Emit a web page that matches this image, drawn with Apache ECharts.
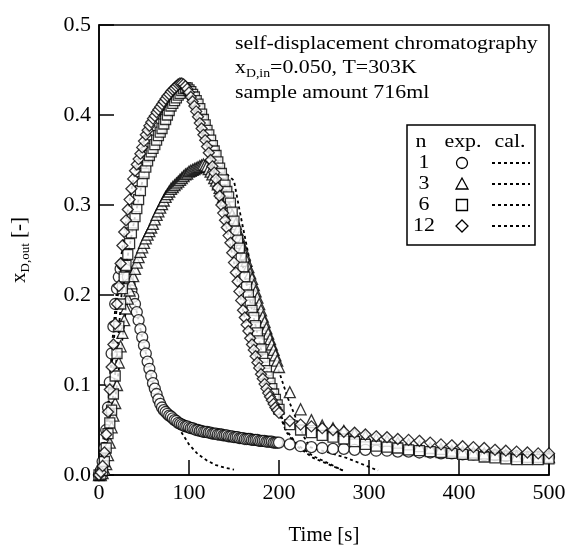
<!DOCTYPE html>
<html>
<head>
<meta charset="utf-8">
<script src="https://cdn.jsdelivr.net/npm/echarts@6/dist/echarts.min.js"></script>
<style>
html, body { margin: 0; padding: 0; background: #fff; }
#container { width: 568px; height: 547px; }
</style>
</head>
<body>
<div id="container"></div>
<script>
// sampling times of the experimental points [s]
var times = [
    0, 2, 4, 6, 8, 10, 12, 14, 16, 18,
    20, 22, 24, 26, 28, 30, 32, 34, 36, 38,
    40, 42, 44, 46, 48, 50, 52, 54, 56, 58,
    60, 62, 64, 66, 68, 70, 72, 74, 76, 78,
    80, 82, 84, 86, 88, 90, 92, 94, 96, 98,
    100, 102, 104, 106, 108, 110, 112, 114, 116, 118,
    120, 122, 124, 126, 128, 130, 132, 134, 136, 138,
    140, 142, 144, 146, 148, 150, 152, 154, 156, 158,
    160, 162, 164, 166, 168, 170, 172, 174, 176, 178,
    180, 182, 184, 186, 188, 190, 192, 194, 196, 198,
    200,
    212, 224, 236, 248, 260, 272, 284, 296, 308, 320, 332, 344, 356,
    368, 380, 392, 404, 416, 428, 440, 452, 464, 476, 488, 500
];

// exp. n = 1 (circles)
var expN1 = [
    0.000, 0.005, 0.015, 0.030, 0.050, 0.075, 0.103, 0.135, 0.165, 0.190,
    0.207, 0.220, 0.229, 0.234, 0.233, 0.228, 0.220, 0.212, 0.205, 0.198,
    0.190, 0.181, 0.172, 0.162, 0.153, 0.144, 0.135, 0.126, 0.118, 0.110,
    0.102, 0.096, 0.090, 0.084, 0.079, 0.075, 0.072, 0.070, 0.068, 0.066,
    0.065, 0.063, 0.061, 0.060, 0.058, 0.057, 0.056, 0.055, 0.054, 0.054,
    0.053, 0.052, 0.052, 0.051, 0.050, 0.050, 0.049, 0.049, 0.048, 0.048,
    0.048, 0.047, 0.047, 0.046, 0.046, 0.046, 0.045, 0.045, 0.045, 0.044,
    0.044, 0.044, 0.043, 0.043, 0.043, 0.042, 0.042, 0.042, 0.041, 0.041,
    0.041, 0.040, 0.040, 0.040, 0.040, 0.039, 0.039, 0.039, 0.039, 0.038,
    0.038, 0.038, 0.038, 0.037, 0.037, 0.037, 0.037, 0.036, 0.036, 0.036,
    0.036,
    0.034, 0.032, 0.031, 0.030, 0.029, 0.029, 0.028, 0.028, 0.027, 0.027, 0.026, 0.026, 0.025,
    0.025, 0.024, 0.024, 0.023, 0.023, 0.022, 0.022, 0.021, 0.021, 0.020, 0.020, 0.020
];

// exp. n = 3 (triangles)
var expN3 = [
    0.000, 0.000, 0.002, 0.006, 0.012, 0.022, 0.036, 0.053, 0.066, 0.080,
    0.100, 0.125, 0.143, 0.158, 0.172, 0.185, 0.196, 0.205, 0.213, 0.221,
    0.229, 0.236, 0.242, 0.248, 0.253, 0.258, 0.263, 0.267, 0.271, 0.275,
    0.279, 0.284, 0.289, 0.293, 0.297, 0.301, 0.305, 0.309, 0.312, 0.315,
    0.318, 0.320, 0.322, 0.324, 0.326, 0.328, 0.330, 0.332, 0.334, 0.335,
    0.337, 0.338, 0.339, 0.340, 0.341, 0.342, 0.343, 0.344, 0.345, 0.344,
    0.343, 0.340, 0.337, 0.334, 0.330, 0.327, 0.323, 0.319, 0.314, 0.309,
    0.305, 0.300, 0.296, 0.292, 0.289, 0.285, 0.279, 0.272, 0.265, 0.258,
    0.252, 0.245, 0.238, 0.231, 0.224, 0.218, 0.211, 0.204, 0.197, 0.190,
    0.183, 0.176, 0.170, 0.163, 0.157, 0.151, 0.145, 0.139, 0.133, 0.127,
    0.120,
    0.092, 0.073, 0.061, 0.055, 0.052, 0.049, 0.046, 0.043, 0.040, 0.038, 0.036, 0.034, 0.032,
    0.030, 0.029, 0.027, 0.026, 0.025, 0.024, 0.023, 0.022, 0.021, 0.020, 0.020, 0.020
];

// exp. n = 6 (squares)
var expN6 = [
    0.000, 0.001, 0.005, 0.015, 0.030, 0.046, 0.058, 0.072, 0.090, 0.110,
    0.135, 0.165, 0.190, 0.207, 0.220, 0.233, 0.245, 0.257, 0.269, 0.278,
    0.287, 0.296, 0.306, 0.316, 0.326, 0.335, 0.342, 0.349, 0.355, 0.359,
    0.363, 0.367, 0.372, 0.377, 0.381, 0.385, 0.390, 0.395, 0.400, 0.405,
    0.410, 0.413, 0.416, 0.419, 0.422, 0.424, 0.427, 0.429, 0.430, 0.430,
    0.428, 0.426, 0.423, 0.420, 0.416, 0.412, 0.407, 0.401, 0.395, 0.389,
    0.383, 0.378, 0.372, 0.366, 0.360, 0.355, 0.348, 0.341, 0.335, 0.328,
    0.322, 0.315, 0.309, 0.302, 0.292, 0.282, 0.271, 0.261, 0.252, 0.241,
    0.231, 0.220, 0.209, 0.200, 0.192, 0.183, 0.175, 0.166, 0.158, 0.149,
    0.140, 0.131, 0.124, 0.116, 0.109, 0.102, 0.096, 0.090, 0.084, 0.078,
    0.073,
    0.056, 0.050, 0.047, 0.044, 0.042, 0.040, 0.037, 0.034, 0.032, 0.031, 0.030, 0.028, 0.027,
    0.026, 0.025, 0.024, 0.023, 0.022, 0.020, 0.019, 0.018, 0.017, 0.017, 0.017, 0.018
];

// exp. n = 12 (diamonds)
var expN12 = [
    0.000, 0.003, 0.010, 0.025, 0.045, 0.070, 0.095, 0.120, 0.145, 0.168,
    0.190, 0.210, 0.235, 0.255, 0.270, 0.283, 0.295, 0.306, 0.318, 0.329,
    0.338, 0.345, 0.351, 0.357, 0.364, 0.371, 0.378, 0.383, 0.388, 0.392,
    0.396, 0.399, 0.403, 0.406, 0.409, 0.412, 0.415, 0.418, 0.421, 0.423,
    0.426, 0.428, 0.430, 0.432, 0.434, 0.435, 0.435, 0.434, 0.432, 0.429,
    0.425, 0.420, 0.415, 0.410, 0.404, 0.398, 0.391, 0.385, 0.378, 0.372,
    0.365, 0.358, 0.350, 0.343, 0.336, 0.329, 0.319, 0.310, 0.300, 0.291,
    0.283, 0.275, 0.266, 0.258, 0.247, 0.236, 0.225, 0.215, 0.204, 0.194,
    0.183, 0.175, 0.167, 0.160, 0.152, 0.145, 0.139, 0.132, 0.125, 0.119,
    0.112, 0.107, 0.101, 0.096, 0.091, 0.087, 0.083, 0.079, 0.075, 0.072,
    0.069,
    0.060, 0.056, 0.054, 0.052, 0.050, 0.048, 0.047, 0.045, 0.043, 0.042, 0.040, 0.039, 0.038,
    0.036, 0.034, 0.033, 0.032, 0.031, 0.030, 0.028, 0.027, 0.026, 0.025, 0.024, 0.024
];

// calculated curves (dashed)
var calTimesN1 = [0, 5, 10, 15, 20, 25, 30, 40, 50, 60, 70, 80, 90, 100, 110, 120, 130, 140, 150];
var calN1 = [0.000, 0.022, 0.075, 0.150, 0.207, 0.232, 0.228, 0.190, 0.144, 0.102, 0.075, 0.063, 0.050, 0.034, 0.023, 0.016, 0.011, 0.008, 0.006];

var calTimesN3 = [0, 5, 10, 15, 20, 30, 40, 60, 80, 100, 120, 130, 140, 150, 156, 165, 175, 185, 195, 200, 210, 220, 228, 234, 255, 275, 290, 310];
var calN3 = [0.000, 0.004, 0.022, 0.060, 0.100, 0.185, 0.229, 0.279, 0.318, 0.337, 0.346, 0.342, 0.336, 0.327, 0.295, 0.250, 0.200, 0.160, 0.128, 0.115, 0.085, 0.060, 0.042, 0.031, 0.025, 0.019, 0.013, 0.005];

var calTimesN6 = [0, 5, 10, 15, 20, 25, 30, 40, 50, 60, 70, 80, 90, 100, 110, 120, 130, 140, 150, 160, 170, 180, 190, 200, 208, 220, 238, 257, 271];
var calN6 = [0.000, 0.010, 0.046, 0.081, 0.135, 0.200, 0.233, 0.287, 0.335, 0.363, 0.385, 0.410, 0.424, 0.428, 0.412, 0.383, 0.355, 0.322, 0.282, 0.231, 0.183, 0.140, 0.102, 0.073, 0.050, 0.034, 0.021, 0.012, 0.005];

var calTimesN12 = [0, 5, 10, 15, 20, 25, 30, 40, 50, 60, 70, 80, 90, 100, 110, 120, 130, 140, 150, 160, 170, 180, 190, 200, 208, 220, 238, 257, 271];
var calN12 = [0.000, 0.035, 0.070, 0.132, 0.190, 0.245, 0.283, 0.338, 0.371, 0.396, 0.412, 0.426, 0.435, 0.425, 0.398, 0.365, 0.329, 0.283, 0.236, 0.183, 0.145, 0.112, 0.087, 0.069, 0.048, 0.032, 0.019, 0.011, 0.005];

var legendN = ['1', '3', '6', '12'];
var annotation = [
    'self-displacement chromatography',
    '{t|x}{sub|D,in}{t|=0.050, T=303K}',
    'sample amount 716ml'
];

var FONT = '"Liberation Serif", "DejaVu Serif", serif';

function pairs(xs, ys) {
    return xs.map(function (x, i) { return [x, ys[i]]; });
}

function expSeries(name, symbol, size, values) {
    return {
        name: name,
        type: 'scatter',
        z: 3,
        symbol: symbol,
        symbolSize: size,
        itemStyle: { color: '#fff', borderColor: '#000', borderWidth: 1.3 },
        data: pairs(times, values),
        silent: true
    };
}

function calSeries(name, xs, ys) {
    return {
        name: name,
        type: 'line',
        z: 1,
        showSymbol: false,
        lineStyle: { color: '#000', width: 1.8, type: [3, 3] },
        data: pairs(xs, ys),
        silent: true
    };
}

/** legend table drawn as graphics */
function legendGraphics() {
    var g = [];
    var rowsY = [163, 184, 205, 226];
    var txt = function (x, y, s) {
        return {
            type: 'text', x: x, y: y, scaleX: 1.15,
            style: { text: s, font: '19px ' + FONT, fill: '#000', align: 'center', verticalAlign: 'middle' }
        };
    };
    g.push({
        type: 'rect',
        shape: { x: 407, y: 125, width: 128, height: 120 },
        style: { fill: '#fff', stroke: '#000', lineWidth: 1.5 }
    });
    g.push(txt(421, 142, 'n'));
    g.push(txt(463, 142, 'exp.'));
    g.push(txt(510, 142, 'cal.'));
    var cx = 462;
    legendN.forEach(function (n, i) {
        var y = rowsY[i];
        g.push(txt(424, y, n));
        var st = { fill: '#fff', stroke: '#000', lineWidth: 1.3 };
        if (i === 0) {
            g.push({ type: 'circle', shape: { cx: cx, cy: y, r: 5.5 }, style: st });
        } else if (i === 1) {
            g.push({ type: 'polygon', shape: { points: [[cx, y - 6], [cx - 6, y + 5], [cx + 6, y + 5]] }, style: st });
        } else if (i === 2) {
            g.push({ type: 'rect', shape: { x: cx - 5.5, y: y - 5.5, width: 11, height: 11 }, style: st });
        } else {
            g.push({ type: 'polygon', shape: { points: [[cx, y - 6], [cx + 6, y], [cx, y + 6], [cx - 6, y]] }, style: st });
        }
        g.push({
            type: 'line',
            shape: { x1: 492, y1: y, x2: 530, y2: y },
            style: { stroke: '#000', lineWidth: 1.8, lineDash: [3, 3] }
        });
    });
    return g;
}

function annotationGraphics() {
    var ys = [44, 68, 93];
    return annotation.map(function (s, i) {
        return {
            type: 'text', x: 235, y: ys[i], scaleX: 1.15,
            style: {
                text: s,
                font: '19px ' + FONT,
                fill: '#000',
                verticalAlign: 'middle',
                rich: {
                    t: { fontFamily: FONT, fontSize: 19, lineHeight: 24, fill: '#000' },
                    sub: { fontFamily: FONT, fontSize: 12, lineHeight: 14, verticalAlign: 'bottom', fill: '#000' }
                }
            }
        };
    });
}

var myChart = echarts.init(document.getElementById('container'), null, { renderer: 'canvas' });

var option = {
    animation: false,
    backgroundColor: '#fff',
    grid: {
        left: 99, top: 25, width: 450, height: 450,
        outerBoundsMode: 'none',
        containLabel: false,
        show: true, borderColor: '#000', borderWidth: 1.5
    },
    xAxis: {
        type: 'value',
        min: 0, max: 500, interval: 100,
        name: 'Time [s]',
        nameLocation: 'middle',
        nameGap: 50,
        nameTextStyle: { fontFamily: FONT, fontSize: 21, color: '#000' },
        axisLine: { show: true, lineStyle: { color: '#000', width: 1.5 } },
        axisTick: { show: true, inside: true, length: 15, lineStyle: { color: '#000', width: 1.5 } },
        axisLabel: { fontFamily: FONT, fontSize: 22, color: '#000', margin: 7 },
        splitLine: { show: false }
    },
    yAxis: {
        type: 'value',
        min: 0, max: 0.5, interval: 0.1,
        name: '{t|x}{sub|D,out}{t| [-]}',
        nameLocation: 'middle',
        nameGap: 67,
        nameTextStyle: {
            color: '#000',
            rich: {
                t: { fontFamily: FONT, fontSize: 21, lineHeight: 26, color: '#000' },
                sub: { fontFamily: FONT, fontSize: 13, lineHeight: 15, verticalAlign: 'bottom', color: '#000' }
            }
        },
        axisLine: { show: true, lineStyle: { color: '#000', width: 1.5 } },
        axisTick: { show: true, inside: true, length: 15, lineStyle: { color: '#000', width: 1.5 } },
        axisLabel: {
            fontFamily: FONT, fontSize: 22, color: '#000', margin: 8,
            formatter: function (v) { return v.toFixed(1); }
        },
        splitLine: { show: false }
    },
    series: [
        calSeries('cal n=1', calTimesN1, calN1),
        calSeries('cal n=3', calTimesN3, calN3),
        calSeries('cal n=6', calTimesN6, calN6),
        calSeries('cal n=12', calTimesN12, calN12),
        expSeries('n=1', 'circle', 11, expN1),
        expSeries('n=3', 'triangle', 11, expN3),
        expSeries('n=6', 'rect', 10, expN6),
        expSeries('n=12', 'diamond', 11, expN12)
    ],
    graphic: annotationGraphics().concat(legendGraphics())
};

myChart.setOption(option);
</script>
</body>
</html>
